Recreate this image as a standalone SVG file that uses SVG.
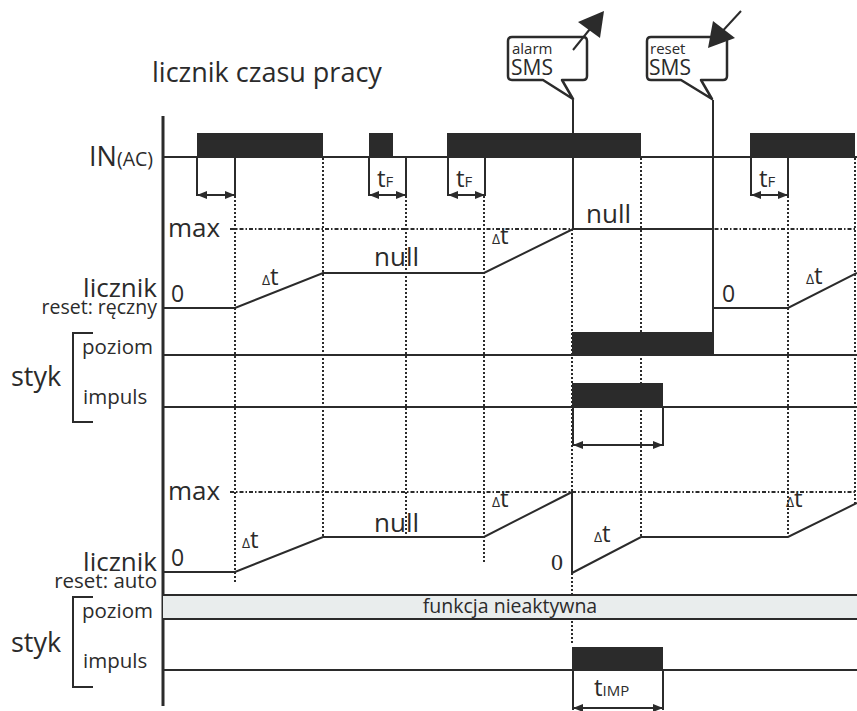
<svg xmlns="http://www.w3.org/2000/svg" width="857" height="711" viewBox="0 0 857 711">
<defs>
<style>
text{font-family:"Open Sans","DejaVu Sans",sans-serif;fill:#2b2b2b}
.ln{stroke:#2b2b2b;stroke-width:2;fill:none}
.ax{stroke:#2b2b2b;stroke-width:3;fill:none}
.dot{stroke:#2b2b2b;stroke-width:2;fill:none;stroke-dasharray:2 2}
.dash{stroke:#2b2b2b;stroke-width:2;fill:none;stroke-dasharray:4 2 1.5 2}
.blk{fill:#2b2b2b}
.arr{stroke:#2b2b2b;stroke-width:2;fill:none;marker-start:url(#ah);marker-end:url(#ah)}
.bub{fill:#fff;stroke:#2b2b2b;stroke-width:2.5;stroke-linejoin:round}
</style>
<marker id="ah" viewBox="0 0 10 8" refX="9" refY="4" markerWidth="10" markerHeight="8" markerUnits="userSpaceOnUse" orient="auto-start-reverse">
<path d="M0,0 L10,4 L0,8 Z" fill="#2b2b2b"/>
</marker>
</defs>
<rect width="857" height="711" fill="#fff"/>

<text x="152" y="82" font-size="27">licznik czasu pracy</text>

<g id="connectors">
<line class="dot" x1="235" y1="196" x2="235" y2="583"/>
<line class="dot" x1="323" y1="158" x2="323" y2="537"/>
<line class="dot" x1="406" y1="196" x2="406" y2="537"/>
<line class="dot" x1="484" y1="196" x2="484" y2="562"/>
<line class="dot" x1="572" y1="229" x2="572" y2="645"/>
<line class="dot" x1="641" y1="158" x2="641" y2="537"/>
<line class="dot" x1="788" y1="196" x2="788" y2="537"/>
<line class="dot" x1="855" y1="158" x2="855" y2="505"/>
<line class="dash" x1="230" y1="229" x2="857" y2="229"/>
<line class="dash" x1="230" y1="492" x2="857" y2="492"/>
<line class="ln" x1="573" y1="100" x2="573" y2="229"/>
<line class="ln" x1="713" y1="100" x2="713" y2="355"/>
</g>

<g id="axis">
<line class="ax" x1="163" y1="116" x2="163" y2="706"/>
</g>

<g id="bubble-alarm">
<path class="bub" d="M512,37 H583 Q587,37 587,41 V76 Q587,80 583,80 H562 L573,99 L543,80 H512 Q508,80 508,76 V41 Q508,37 512,37 Z"/>
<text x="512" y="54" font-size="15">alarm</text>
<text x="511" y="75" font-size="21">SMS</text>
<line class="ln" x1="573" y1="50" x2="594" y2="24" stroke-width="2.5"/>
<polygon class="blk" points="604,11 600,38 578,22"/>
</g>
<g id="bubble-reset">
<path class="bub" d="M651,37 H723 Q727,37 727,41 V76 Q727,80 723,80 H701 L712,99 L681,80 H651 Q647,80 647,76 V41 Q647,37 651,37 Z"/>
<text x="650" y="54" font-size="15">reset</text>
<text x="649" y="75" font-size="21">SMS</text>
<line class="ln" x1="741" y1="11" x2="718" y2="36" stroke-width="2.5"/>
<polygon class="blk" points="708,48 713,21 735,38"/>
</g>

<g id="in-ac">
<text x="89" y="166" font-size="27">IN<tspan font-size="19.5">(AC)</tspan></text>
<line class="ln" x1="163" y1="157" x2="857" y2="157"/>
<rect class="blk" x="197" y="133" width="126" height="24"/>
<rect class="blk" x="369" y="133" width="24" height="24"/>
<rect class="blk" x="447" y="133" width="194" height="24"/>
<rect class="blk" x="750" y="133" width="105" height="24"/>
<path class="ln" d="M197,157 V196 M235,157 V196"/>
<line class="arr" x1="198" y1="195" x2="234" y2="195"/>
<path class="ln" d="M369,157 V196 M406,157 V196"/>
<line class="arr" x1="370" y1="195" x2="405" y2="195"/>
<text x="377" y="187" font-size="24">t<tspan font-size="15">F</tspan></text>
<path class="ln" d="M448,157 V196 M485,157 V196"/>
<line class="arr" x1="449" y1="195" x2="484" y2="195"/>
<text x="456" y="187" font-size="24">t<tspan font-size="15">F</tspan></text>
<path class="ln" d="M751,157 V196 M788,157 V196"/>
<line class="arr" x1="752" y1="195" x2="787" y2="195"/>
<text x="759" y="187" font-size="24">t<tspan font-size="15">F</tspan></text>
</g>

<g id="counter-manual">
<text x="168" y="237" font-size="26">max</text>
<text x="157" y="297" font-size="26" text-anchor="end">licznik</text>
<text x="157" y="314" font-size="19.5" text-anchor="end">reset: ręczny</text>
<text x="171" y="302" font-size="23">0</text>
<path class="ln" d="M163,308 H235 L323,273 H484 L573,229 H713 V308 H788 L857,273"/>
<text x="262" y="285" font-size="24"><tspan font-size="14">Δ</tspan>t</text>
<text x="374" y="266" font-size="26">null</text>
<text x="492" y="244" font-size="24"><tspan font-size="14">Δ</tspan>t</text>
<text x="586" y="223" font-size="26">null</text>
<text x="722" y="302" font-size="23">0</text>
<text x="806" y="284" font-size="24"><tspan font-size="14">Δ</tspan>t</text>
</g>

<g id="styk-manual">
<path class="ln" d="M93,333 H73 V422 H93"/>
<text x="11" y="386" font-size="27">styk</text>
<text x="82" y="354" font-size="20.5">poziom</text>
<text x="83" y="404" font-size="20.5">impuls</text>
<line class="ln" x1="163" y1="355" x2="857" y2="355"/>
<rect class="blk" x="572" y="332" width="141" height="23"/>
<line class="ln" x1="163" y1="407" x2="857" y2="407"/>
<rect class="blk" x="572" y="383" width="91" height="24"/>
<path class="ln" d="M573,407 V446 M663,407 V446"/>
<line class="arr" x1="574" y1="445" x2="662" y2="445"/>
</g>

<g id="counter-auto">
<text x="168" y="500" font-size="26">max</text>
<text x="157" y="571" font-size="26" text-anchor="end">licznik</text>
<text x="157" y="588" font-size="20.5" text-anchor="end">reset: auto</text>
<text x="171" y="566" font-size="23">0</text>
<path class="ln" d="M163,572 H235 L323,537 H484 L572,492 V573 L641,537 H788 L857,503"/>
<text x="242" y="548" font-size="24"><tspan font-size="14">Δ</tspan>t</text>
<text x="374" y="532" font-size="26">null</text>
<text x="492" y="507" font-size="24"><tspan font-size="14">Δ</tspan>t</text>
<text x="594" y="542" font-size="24"><tspan font-size="14">Δ</tspan>t</text>
<text x="786" y="507" font-size="24"><tspan font-size="14">Δ</tspan>t</text>
<text x="551" y="570" font-size="24" style="font-family:'Liberation Serif',serif">0</text>
</g>

<g id="styk-auto">
<rect x="163" y="595" width="694" height="24" fill="#e9eded"/>
<line class="ln" x1="163" y1="595" x2="857" y2="595"/>
<line class="ln" x1="163" y1="619" x2="857" y2="619"/>
<text x="510" y="613" font-size="19.5" text-anchor="middle">funkcja nieaktywna</text>
<path class="ln" d="M93,597 H73 V687 H93"/>
<text x="11" y="652" font-size="27">styk</text>
<text x="82" y="618" font-size="20.5">poziom</text>
<text x="83" y="668" font-size="20.5">impuls</text>
<line class="ln" x1="163" y1="670" x2="857" y2="670"/>
<rect class="blk" x="572" y="647" width="91" height="23"/>
<path class="ln" d="M573,670 V710 M663,670 V710"/>
<line class="arr" x1="574" y1="708" x2="662" y2="708"/>
<text x="594" y="696" font-size="24">t<tspan font-size="15">IMP</tspan></text>
</g>
</svg>
